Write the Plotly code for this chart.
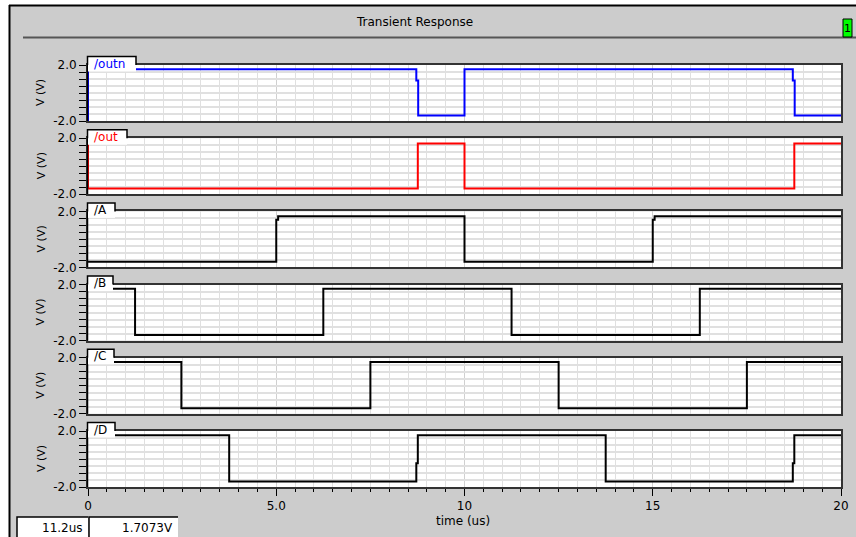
import plotly.graph_objects as go

W, H = 856, 537

# ---------------- data ----------------
names = ["/outn", "/out", "/A", "/B", "/C", "/D"]
colors = ["#0000ff", "#ff0000", "#000000", "#000000", "#000000", "#000000"]

t_outn = [0, 0, 8.72, 8.77, 10.0, 18.72, 18.77, 20]
v_outn = [-2.0, 1.7, 0.9, -1.6, 1.7, 0.9, -1.6, -1.6]

t_out = [0, 0, 8.76, 10.0, 18.76, 20]
v_out = [1.63, -1.6, 1.63, -1.6, 1.63, 1.63]

t_A = [0, 5.0, 5.05, 10.0, 15.0, 15.05, 20]
v_A = [-1.6, 1.4, 1.65, -1.6, 1.4, 1.65, 1.65]

t_B = [0, 1.25, 6.25, 11.25, 16.25, 20]
v_B = [1.7, -1.6, 1.7, -1.6, 1.7, 1.7]

t_C = [0, 2.48, 7.5, 12.5, 17.5, 20]
v_C = [1.7, -1.6, 1.7, -1.6, 1.7, 1.7]

t_D = [0, 3.75, 8.72, 8.76, 13.75, 18.72, 18.76, 20]
v_D = [1.7, -1.6, -0.3, 1.7, -1.6, -0.3, 1.7, 1.7]

series_t = [t_outn, t_out, t_A, t_B, t_C, t_D]
series_v = [v_outn, v_out, v_A, v_B, v_C, v_D]

y_ticks = [-2.0, -1.5, -1.0, -0.5, 0.0, 0.5, 1.0, 1.5, 2.0]
y_ticktext = ["-2.0", "", "", "", "", "", "", "", "2.0"]
x_ticks = [0, 5, 10, 15, 20]
x_ticktext = ["0", "5.0", "10", "15", "20"]

cursor_time = "11.2us"
cursor_value = "1.7073V"

# ---------------- layout helpers ----------------
def px(x):
    return x / W

def py(y):
    return 1 - y / H

FONT = "DejaVu Sans"
BG = "#cccccc"
GRID = "#e0e0e0"
GRID_MAJ = "#d0d0d0"
BORDER = "#333333"

x_left, x_right = 88, 841
tops = [65, 138.2, 211.4, 284.6, 357.8, 431]
ph = 56
tab_right = [136, 127, 115, 113, 114, 115]

fig = go.Figure()
shapes = []
annotations = []

def ann(x, y, text, size=12, color="black", xanchor="center", yanchor="middle", angle=0):
    annotations.append(dict(xref="paper", yref="paper", x=px(x), y=py(y),
                            xanchor=xanchor, yanchor=yanchor, text=text,
                            showarrow=False, textangle=angle,
                            font=dict(family=FONT, size=size, color=color)))

# outer white strips + black frame lines
shapes.append(dict(type="rect", xref="paper", yref="paper",
                   x0=0, x1=1, y0=py(5), y1=1, fillcolor="white", line=dict(width=0)))
shapes.append(dict(type="rect", xref="paper", yref="paper",
                   x0=0, x1=px(9), y0=0, y1=1, fillcolor="white", line=dict(width=0)))
shapes.append(dict(type="line", xref="paper", yref="paper",
                   x0=px(9), x1=1, y0=py(5.5), y1=py(5.5),
                   line=dict(color="black", width=2)))
shapes.append(dict(type="line", xref="paper", yref="paper",
                   x0=px(9.5), x1=px(9.5), y0=0, y1=py(5),
                   line=dict(color="black", width=2)))
# title separator
shapes.append(dict(type="line", xref="paper", yref="paper",
                   x0=px(23), x1=px(W), y0=py(37.5), y1=py(37.5),
                   line=dict(color="#555555", width=2)))
# green badge
shapes.append(dict(type="rect", xref="paper", yref="paper",
                   x0=px(843), x1=px(852), y0=py(37), y1=py(19),
                   fillcolor="#00ff00", line=dict(color="black", width=1)))
ann(847.5, 28.5, "1", size=11)
ann(414, 22, "Transient Response", size=12)

for i in range(6):
    n = i + 1
    xa = "x" if n == 1 else f"x{n}"
    ya = "y" if n == 1 else f"y{n}"
    top = tops[i]
    bot = top + ph
    fig.add_trace(go.Scatter(x=series_t[i], y=series_v[i], mode="lines",
                             line=dict(color=colors[i], width=2, shape="hv"),
                             xaxis=xa, yaxis=ya, showlegend=False,
                             hoverinfo="skip"))
    last = (i == 5)
    xkey = "xaxis" if n == 1 else f"xaxis{n}"
    ykey = "yaxis" if n == 1 else f"yaxis{n}"
    xdict = dict(domain=[px(x_left), px(x_right)], range=[0, 20], anchor=ya,
                 showgrid=True, gridcolor=GRID_MAJ, gridwidth=1,
                 tickvals=x_ticks, ticktext=x_ticktext,
                 showline=True, linecolor=BORDER, linewidth=2, mirror=True,
                 zeroline=False, fixedrange=True, automargin=False,
                 minor=dict(dtick=0.5, tick0=0, showgrid=True, gridcolor=GRID,
                            gridwidth=1,
                            ticks="outside" if last else "", ticklen=3,
                            tickcolor="black"),
                 ticks="outside" if last else "", ticklen=7, tickcolor="black",
                 showticklabels=last,
                 tickfont=dict(family=FONT, size=12, color="black"))
    if n != 1:
        xdict["matches"] = "x"
    ydict = dict(domain=[py(bot), py(top)], range=[-2, 2], anchor=xa,
                 tickvals=y_ticks, ticktext=y_ticktext,
                 ticks="outside", ticklen=7, tickcolor="black", tickwidth=1,
                 showgrid=True, gridcolor=GRID, gridwidth=2,
                 showline=True, linecolor=BORDER, linewidth=2, mirror=True,
                 zeroline=False, fixedrange=True, automargin=False,
                 tickfont=dict(family=FONT, size=12, color="black"))
    fig.layout[xkey] = xdict
    fig.layout[ykey] = ydict

    # left axis line in black
    shapes.append(dict(type="line", xref="paper", yref="paper",
                       x0=px(x_left - 0.5), x1=px(x_left - 0.5),
                       y0=py(bot), y1=py(top),
                       line=dict(color="black", width=1.5)))
    # tab: white cover + outline
    tr = tab_right[i]
    shapes.append(dict(type="rect", xref="paper", yref="paper",
                       x0=px(x_left), x1=px(tr), y0=py(top + 6.5), y1=py(top - 8.5),
                       fillcolor="white", line=dict(width=0)))
    shapes.append(dict(type="path", xref="paper", yref="paper",
                       path=f"M {px(x_left - 0.5)},{py(top)} L {px(x_left - 0.5)},{py(top - 8.5)} "
                            f"L {px(tr)},{py(top - 8.5)} L {px(tr)},{py(top)}",
                       line=dict(color="black", width=1.5)))
    ann(x_left + 4, top - 1.5, names[i], size=12, color=colors[i], xanchor="left")
    ann(41, top + ph / 2, "V (V)", size=11, angle=-90)

# x axis title
ann(463, 521, "time (us)", size=12)

# cursor readout boxes
for (x0, x1, txt) in [(17, 88, cursor_time), (89, 178, cursor_value)]:
    shapes.append(dict(type="rect", xref="paper", yref="paper",
                       x0=px(x0), x1=px(x1), y0=py(H + 3), y1=py(517),
                       fillcolor="white", line=dict(width=0)))
    shapes.append(dict(type="path", xref="paper", yref="paper",
                       path=f"M {px(x0)},{py(H + 3)} L {px(x0)},{py(517)} L {px(x1)},{py(517)}",
                       line=dict(color="black", width=1.5)))
    ann(x1 - 3, 527.5, txt, size=12, xanchor="right")

fig.update_layout(width=W, height=H, autosize=False,
                  margin=dict(l=0, r=0, t=0, b=0, pad=0, autoexpand=False),
                  paper_bgcolor=BG, plot_bgcolor="white",
                  shapes=shapes, annotations=annotations,
                  showlegend=False)

fig.write_html("out.html", config={"displayModeBar": False})
